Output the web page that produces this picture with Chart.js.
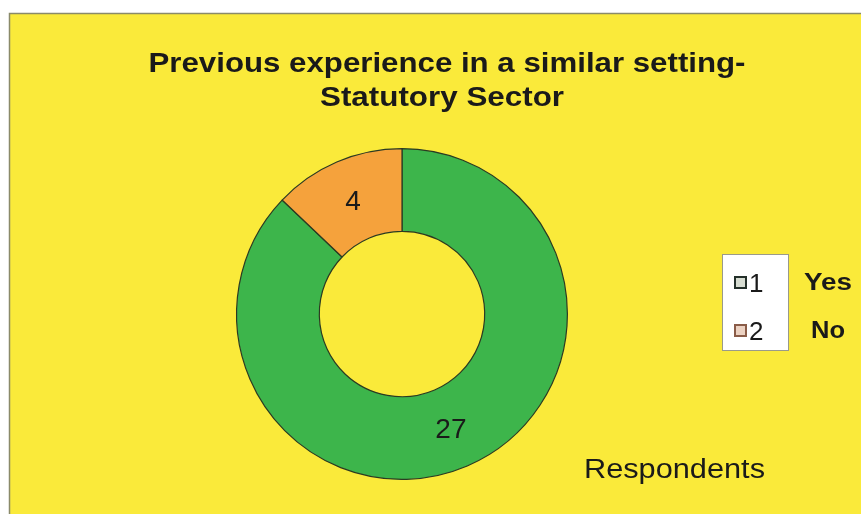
<!DOCTYPE html>
<html>
<head>
<meta charset="utf-8">
<script src="https://cdn.jsdelivr.net/npm/chart.js@4/dist/chart.umd.min.js"></script>
<style>
  html, body { margin: 0; padding: 0; background: #ffffff; }
  #wrap { position: relative; width: 861px; height: 514px; }
  canvas { display: block; }
</style>
</head>
<body>
<div id="wrap"><canvas id="donut" width="861" height="514"></canvas></div>
<script>
// ============================
// DATA
// ============================
const titleLines = ['Previous experience in a similar setting-', 'Statutory Sector'];
const categories = ['1', '2'];
const answers = ['Yes', 'No'];
const respondents = [27, 4];
const sliceColors = ['#3db54b', '#f5a23c'];
const seriesName = 'Respondents';

// ============================
// HELPERS
// ============================
function stretchText(ctx, text, x, y, font, width, align) {
    ctx.save();
    ctx.font = font;
    const w = ctx.measureText(text).width;
    const sx = width ? width / w : 1;
    let left = x;
    if (align === 'center') left = x - (w * sx) / 2;
    ctx.translate(left, y);
    ctx.scale(sx, 1);
    ctx.textAlign = 'left';
    ctx.textBaseline = 'alphabetic';
    ctx.fillText(text, 0, 0);
    ctx.restore();
}

// background panel, title, value labels and the legend
const decor = {
    id: 'decor',
    beforeDraw(chart) {
        const ctx = chart.ctx;
        ctx.save();
        ctx.fillStyle = '#ffffff';
        ctx.fillRect(0, 0, chart.width, chart.height);
        ctx.fillStyle = '#faea3a';
        ctx.fillRect(9, 13, chart.width - 9, chart.height - 13);
        ctx.strokeStyle = '#8a8a6a';
        ctx.lineWidth = 1.5;
        ctx.beginPath();
        ctx.moveTo(9.5, chart.height);
        ctx.lineTo(9.5, 13.5);
        ctx.lineTo(chart.width, 13.5);
        ctx.stroke();
        ctx.restore();
    },
    afterDraw(chart) {
        const ctx = chart.ctx;
        ctx.save();
        ctx.fillStyle = '#1a1a1a';
        stretchText(ctx, titleLines[0], 447, 72, 'bold 28px "Liberation Sans", Arial, sans-serif', 597, 'center');
        stretchText(ctx, titleLines[1], 442, 106, 'bold 28px "Liberation Sans", Arial, sans-serif', 244, 'center');

        // value labels at the middle of each ring segment
        const meta = chart.getDatasetMeta(0);
        ctx.font = '28px "Liberation Sans", Arial, sans-serif';
        ctx.textAlign = 'center';
        ctx.textBaseline = 'middle';
        meta.data.forEach((arc, i) => {
            const p = arc.tooltipPosition();
            ctx.fillText(String(respondents[i]), p.x, p.y + 2);
        });

        // legend box
        ctx.fillStyle = '#ffffff';
        ctx.fillRect(722, 254, 67, 97);
        ctx.strokeStyle = '#9a9a8a';
        ctx.lineWidth = 1;
        ctx.strokeRect(722.5, 254.5, 66, 96);

        const icons = [
            { fill: '#d7ddd2', edge: '#24302a' },
            { fill: '#ecd2c2', edge: '#8a5c48' }
        ];
        categories.forEach((c, i) => {
            const y = 282 + i * 48;
            ctx.fillStyle = icons[i].fill;
            ctx.fillRect(735, y - 5, 11, 11);
            ctx.strokeStyle = icons[i].edge;
            ctx.lineWidth = 2;
            ctx.strokeRect(735, y - 5, 11, 11);
            ctx.fillStyle = '#1a1a1a';
            ctx.font = '26px "Liberation Sans", Arial, sans-serif';
            ctx.textAlign = 'left';
            ctx.textBaseline = 'alphabetic';
            ctx.fillText(c, 749, y + 10);
            stretchText(ctx, answers[i], 828, y + 8, 'bold 23px "Liberation Sans", Arial, sans-serif', i === 0 ? 48 : 34, 'center');
        });

        stretchText(ctx, seriesName, 584, 478, '27px "Liberation Sans", Arial, sans-serif', 181, 'left');
        ctx.restore();
    }
};

// ============================
// CHART
// ============================
new Chart(document.getElementById('donut'), {
    type: 'doughnut',
    data: {
        labels: categories,
        datasets: [{
            label: seriesName,
            data: respondents,
            backgroundColor: sliceColors,
            borderColor: '#2b3a22',
            borderWidth: 1.2
        }]
    },
    options: {
        responsive: false,
        animation: false,
        cutout: '50%',
        layout: {
            padding: { top: 148, bottom: 34, left: 236, right: 293 }
        },
        plugins: {
            legend: { display: false },
            title: { display: false },
            tooltip: { enabled: false }
        }
    },
    plugins: [decor]
});
</script>
</body>
</html>
